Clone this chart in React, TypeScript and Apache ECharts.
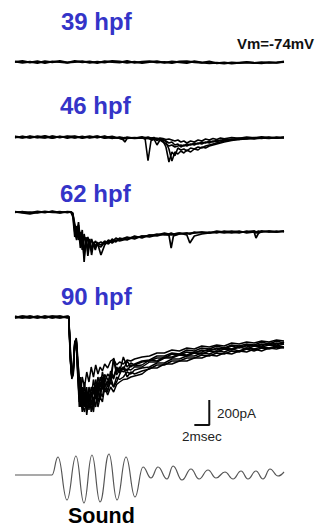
import React, { useEffect, useRef } from "react";
import * as echarts from "echarts";

// Stage labels
const STAGES = ["39 hpf", "46 hpf", "62 hpf", "90 hpf"];
const VM_LABEL = "Vm=-74mV";
const CURRENT_SCALE = "200pA";
const TIME_SCALE = "2msec";
const STIM_LABEL = "Sound";

// 39 hpf: time (ms) and sweeps (pA)
const T39 = [0,1,2,3,4,5,6,7,8,9,10,11,12,13,14,15,16,17,18,19,20,21,22,23,24,25,26,27,28,29,30,31,32,33,34,35,36];
const S39_A = [0,8,-4,6,-8,4,0,-6,8,-2,4,-8,6,0,-4,8,-6,2,6,-4,0,-8,4,6,-2,-6,4,-10,-4,-12,-6,-4,-8,-2,-6,-4,0];
const S39_B = [4,-6,2,-8,6,-2,8,-4,0,6,-6,2,-4,8,4,-6,2,-8,0,6,-6,4,-2,-8,6,-4,-10,-6,-12,-4,-8,0,-6,-10,-2,-6,4];

// 46 hpf
const T46 = [0,1,2,3,4,5,6,7,8,9,10,11,12,13,14,14.4,14.7,15,16,17,17.4,17.8,18.2,18.6,19,19.4,19.8,20.2,20.6,21,21.4,21.8,22.2,22.6,23,23.5,24,24.5,25,25.5,26,26.5,27,27.5,28,29,30,31,32,33,34,35,36];
const S46_A = [4,-6,8,-2,6,-8,2,-4,8,-6,0,6,-10,-4,-8,-6,-12,-8,-4,-10,-8,-190,-30,-16,-64,-24,-40,-56,-72,-64,-80,-72,-64,-72,-56,-64,-48,-56,-40,-48,-32,-40,-24,-32,-16,-20,-8,-12,-4,-10,0,-8,-4];
const S46_B = [-4,6,-8,2,-6,8,-2,4,-8,2,-4,8,-6,0,-10,-16,-40,-12,-6,-4,-12,-8,-16,-20,-12,-24,-32,-80,-200,-120,-150,-88,-104,-96,-112,-88,-96,-80,-88,-72,-64,-56,-48,-40,-32,-24,-16,-12,-16,-8,-12,-4,-8];
const S46_C = [0,-8,4,-6,10,-4,6,-10,2,-2,8,-6,4,-8,-4,-8,-4,-10,-8,-6,-4,-12,-8,-14,-10,-20,-16,-40,-96,-192,-120,-136,-112,-128,-104,-120,-96,-104,-80,-88,-72,-64,-56,-48,-40,-28,-20,-16,-8,-12,-4,-10,-2];
const S46_D = [6,-2,-6,8,0,-10,4,2,-6,6,-8,0,-4,6,-12,-20,-10,-6,-12,-8,-16,-10,-20,-12,-28,-16,-24,-32,-48,-40,-64,-56,-80,-64,-72,-56,-64,-48,-56,-40,-48,-32,-40,-24,-28,-16,-20,-8,-12,-4,-8,0,-6];
const S46_E = [-6,4,0,-4,-8,6,-6,8,4,-10,2,-4,8,-12,0,-4,-8,0,-10,2,-6,0,-8,-4,-16,-8,-12,-20,-16,-24,-32,-24,-40,-32,-48,-32,-40,-24,-32,-16,-24,-12,-20,-8,-14,-4,-10,0,-6,2,-4,-8,0];

// 62 hpf
const T62 = [0,1,2,3,4,5,6,7,7.5,7.75,8,8.25,8.5,8.75,9,9.25,9.5,9.75,10,10.25,10.5,10.75,11,11.5,12,12.5,13,13.5,14,15,16,17,18,19,20,20.6,20.9,21.2,22,23,23.4,24,25,26,27,28,29,30,31,32,32.25,32.6,33,34,35,36];
const S62_A = [0,-8,-16,-4,6,-2,4,-6,0,-8,-128,-192,-80,-240,-144,-400,-208,-320,-232,-344,-248,-288,-264,-280,-240,-248,-224,-232,-216,-208,-200,-200,-184,-192,-176,-176,-184,-176,-168,-176,-168,-168,-160,-168,-160,-160,-168,-160,-160,-152,-160,-152,-160,-152,-160,-152];
const S62_B = [-4,4,-10,2,-6,8,-4,2,-4,-40,-200,-112,-224,-160,-304,-176,-264,-200,-280,-216,-264,-232,-256,-240,-256,-224,-240,-208,-224,-200,-216,-192,-192,-176,-184,-184,-288,-192,-176,-168,-176,-160,-168,-160,-168,-152,-160,-168,-152,-160,-168,-160,-152,-160,-152,-160];
const S62_C = [4,-4,0,-8,2,-4,-6,4,2,-16,-160,-224,-136,-288,-192,-360,-232,-296,-216,-312,-240,-272,-248,-264,-232,-256,-216,-240,-208,-224,-192,-208,-184,-184,-168,-176,-168,-176,-168,-184,-248,-192,-176,-168,-160,-168,-160,-152,-168,-160,-208,-168,-160,-152,-160,-152];
const S62_D = [-2,2,-6,6,-2,4,-8,0,-2,-24,-96,-168,-104,-208,-176,-336,-200,-352,-240,-296,-256,-304,-240,-344,-264,-232,-248,-224,-232,-216,-208,-192,-200,-184,-176,-184,-176,-184,-176,-168,-176,-168,-160,-168,-152,-160,-152,-160,-160,-152,-160,-168,-152,-160,-160,-152];

// 90 hpf
const T90 = [0,1,2,3,4,5,6,7,7.2,7.4,7.6,7.8,8,8.2,8.4,8.6,8.8,9,9.3,9.6,9.9,10.2,10.5,10.8,11.1,11.4,11.7,12,12.4,12.8,13.2,13.6,14,14.5,15,15.5,16,17,18,19,20,21,22,23,24,25,26,27,28,29,30,31,32,33,34,35,36];
const S90_1 = [0,6,-4,8,-6,2,-8,4,0,-280,-480,-440,-200,-176,-320,-520,-600,-480,-560,-440,-520,-400,-480,-384,-456,-400,-432,-376,-408,-352,-336,-384,-360,-376,-344,-352,-336,-320,-312,-288,-288,-264,-272,-248,-256,-232,-240,-224,-232,-208,-216,-200,-208,-192,-200,-184,-192];
const S90_2 = [-6,4,2,-8,6,-4,0,-6,-8,-320,-472,-400,-216,-192,-400,-600,-520,-680,-520,-720,-560,-640,-500,-600,-480,-560,-440,-520,-456,-488,-328,-440,-400,-424,-352,-400,-376,-352,-344,-312,-312,-288,-296,-264,-272,-248,-256,-232,-248,-224,-232,-216,-224,-200,-216,-192,-208];
const S90_3 = [4,-2,-8,4,0,8,-4,2,4,-240,-488,-456,-208,-184,-440,-680,-560,-720,-600,-784,-640,-704,-560,-656,-520,-600,-480,-560,-520,-456,-496,-408,-448,-400,-432,-384,-392,-384,-344,-352,-320,-320,-296,-304,-280,-280,-256,-264,-248,-256,-232,-240,-224,-232,-208,-224,-200];
const S90_4 = [-4,8,0,-6,4,-8,6,-2,-4,-360,-464,-380,-192,-200,-360,-480,-680,-560,-680,-560,-744,-600,-680,-540,-640,-520,-580,-480,-560,-432,-480,-400,-440,-320,-400,-368,-384,-360,-352,-328,-328,-296,-304,-280,-288,-264,-272,-248,-256,-232,-248,-224,-232,-216,-224,-208,-216];
const S90_5 = [2,-6,6,-2,-8,4,-2,8,2,-300,-480,-420,-224,-168,-480,-640,-720,-600,-720,-600,-680,-560,-620,-500,-600,-480,-540,-460,-500,-536,-336,-464,-420,-440,-416,-424,-400,-400,-360,-360,-328,-328,-304,-312,-288,-296,-272,-280,-256,-264,-240,-256,-232,-240,-224,-232,-216];
const S90_6 = [-8,2,4,-4,8,-2,-6,0,-6,-260,-496,-460,-232,-200,-420,-560,-480,-640,-560,-680,-600,-760,-640,-720,-580,-660,-520,-600,-580,-520,-560,-480,-500,-480,-440,-456,-424,-408,-400,-368,-368,-336,-336,-312,-312,-288,-296,-272,-280,-256,-272,-248,-256,-240,-248,-232,-240];
const S90_7 = [6,-4,-6,2,-2,6,8,-6,8,-340,-480,-430,-200,-176,-380,-600,-640,-760,-640,-740,-680,-600,-720,-560,-680,-600,-640,-520,-600,-480,-560,-520,-460,-400,-480,-440,-456,-432,-416,-384,-384,-352,-352,-328,-328,-304,-312,-288,-296,-272,-280,-256,-272,-248,-256,-240,-248];
const S90_8 = [-2,-8,8,-4,2,-6,4,-4,-2,-300,-470,-410,-210,-190,-460,-720,-600,-700,-760,-640,-720,-680,-760,-600,-720,-640,-680,-560,-624,-560,-600,-540,-520,-500,-496,-480,-472,-456,-408,-408,-376,-376,-352,-352,-328,-328,-304,-312,-288,-296,-272,-280,-256,-272,-248,-256,-240];

// Scale bar (ms, pA)
const SCALE_T = [24, 26, 26];
const SCALE_PA = [-864, -864, -664];

// Sound stimulus (ms, arbitrary units)
const SOUND_T = [0,4.95,5.75,6.96,8.16,9.23,10.3,11.38,12.58,13.65,14.86,16.06,17.13,18.2,19.14,20.34,21.15,22.35,23.55,24.63,25.83,26.9,28.1,29.18,30.25,31.18,32.25,33.19,34.13,35.2,36];
const SOUND_A = [0,0,18,-25,19,-28,20,-27,21,-25,18,-22,8,-3,8,-4,9,-5,6,-4,5,-3,3,-4,4,-4,4,-4,6,-1,3];

const FONT = '"Liberation Sans", Arial, Helvetica, sans-serif';

export default function App() {
  const ref = useRef<HTMLDivElement>(null);

  useEffect(() => {
    if (!ref.current) return;
    const chart = echarts.init(ref.current, null, { renderer: "svg" });

    const panels = [
      { t: T39, sweeps: [S39_A, S39_B], top: 52, height: 20, min: -80, max: 80, w: 1.8 },
      { t: T46, sweeps: [S46_A, S46_B, S46_C, S46_D, S46_E], top: 127, height: 45, min: -280, max: 80, w: 1.6 },
      { t: T62, sweeps: [S62_A, S62_B, S62_C, S62_D], top: 202, height: 70, min: -480, max: 80, w: 1.7 },
      { t: T90, sweeps: [S90_1, S90_2, S90_3, S90_4, S90_5, S90_6, S90_7, S90_8], top: 307, height: 125, min: -920, max: 80, w: 1.5 },
    ];

    const grid: any[] = [];
    const xAxis: any[] = [];
    const yAxis: any[] = [];
    const series: any[] = [];

    panels.forEach((p, i) => {
      grid.push({ left: 15, width: 269, top: p.top, height: p.height });
      xAxis.push({ type: "value", gridIndex: i, min: 0, max: 36, show: false });
      yAxis.push({ type: "value", gridIndex: i, min: p.min, max: p.max, show: false });
      p.sweeps.forEach((s) => {
        series.push({
          type: "line",
          xAxisIndex: i,
          yAxisIndex: i,
          data: p.t.map((t, k) => [t, s[k]]),
          showSymbol: false,
          silent: true,
          lineStyle: { color: "#000", width: p.w },
        });
      });
    });

    // scale bar in 90 hpf grid
    series.push({
      type: "line",
      xAxisIndex: 3,
      yAxisIndex: 3,
      data: SCALE_T.map((t, k) => [t, SCALE_PA[k]]),
      showSymbol: false,
      silent: true,
      lineStyle: { color: "#111", width: 2 },
    });

    // sound grid
    grid.push({ left: 15, width: 269, top: 445, height: 70 });
    xAxis.push({ type: "value", gridIndex: 4, min: 0, max: 36, show: false });
    yAxis.push({ type: "value", gridIndex: 4, min: -40, max: 30, show: false });
    series.push({
      type: "line",
      xAxisIndex: 4,
      yAxisIndex: 4,
      data: SOUND_T.map((t, k) => [t, SOUND_A[k]]),
      showSymbol: false,
      silent: true,
      smooth: 0.45,
      smoothMonotone: "x",
      lineStyle: { color: "#555", width: 1.2 },
    });

    const stagePos = [
      [61, 21],
      [60, 105],
      [60, 193],
      [61, 296],
    ];

    const graphic: any[] = STAGES.map((s, i) => ({
      type: "text",
      x: stagePos[i][0],
      y: stagePos[i][1],
      silent: true,
      style: {
        text: s,
        fill: "#3434c8",
        fontFamily: FONT,
        fontWeight: "bold",
        fontSize: 24,
        align: "left",
        verticalAlign: "middle",
      },
    }));
    graphic.push(
      {
        type: "text",
        x: 237,
        y: 43,
        silent: true,
        style: { text: VM_LABEL, fill: "#111", fontFamily: FONT, fontWeight: "bold", fontSize: 15, align: "left", verticalAlign: "middle" },
      },
      {
        type: "text",
        x: 217,
        y: 413,
        silent: true,
        style: { text: CURRENT_SCALE, fill: "#222", fontFamily: FONT, fontSize: 13.5, align: "left", verticalAlign: "middle" },
      },
      {
        type: "text",
        x: 182,
        y: 436,
        silent: true,
        style: { text: TIME_SCALE, fill: "#222", fontFamily: FONT, fontSize: 13.5, align: "left", verticalAlign: "middle" },
      },
      {
        type: "text",
        x: 68,
        y: 516,
        silent: true,
        style: { text: STIM_LABEL, fill: "#000", fontFamily: FONT, fontWeight: "bold", fontSize: 21.5, align: "left", verticalAlign: "middle" },
      }
    );

    chart.setOption({
      animation: false,
      backgroundColor: "#fff",
      grid,
      xAxis,
      yAxis,
      series,
      graphic,
    });

    return () => chart.dispose();
  }, []);

  return (
    <div
      ref={ref}
      style={{ position: "fixed", left: 0, top: 0, width: 321, height: 529, background: "#fff" }}
    />
  );
}
